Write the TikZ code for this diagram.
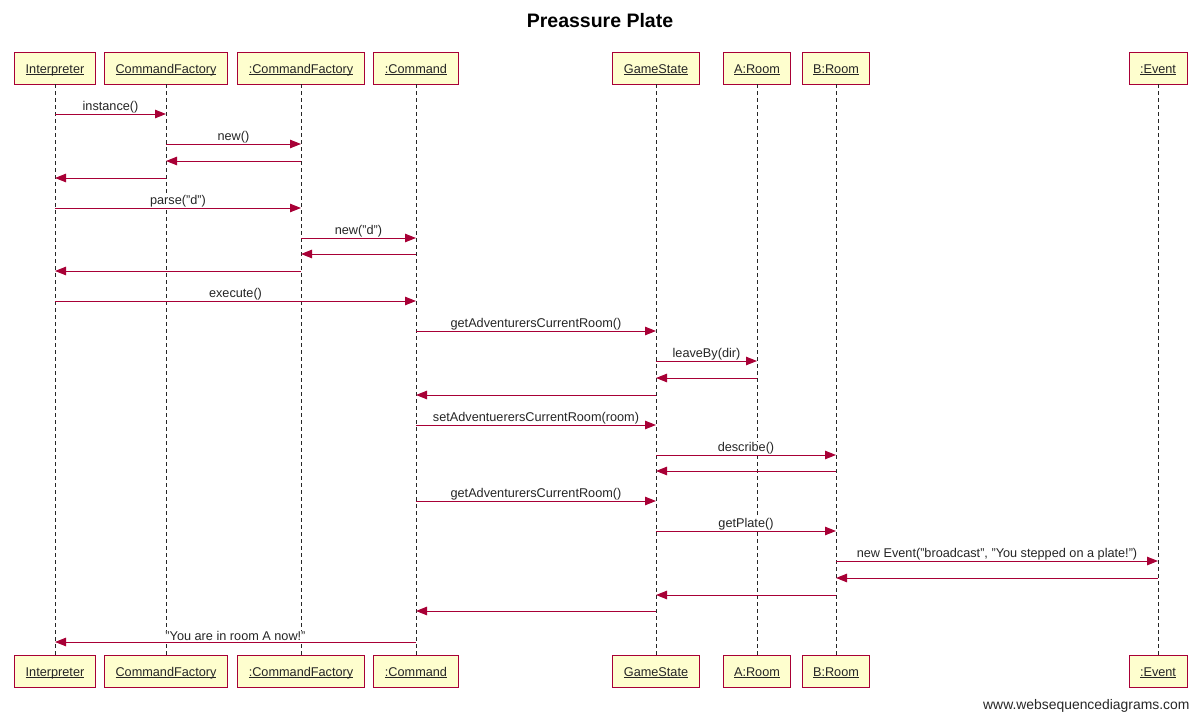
\documentclass[tikz,border=0pt]{standalone}
\usepackage{fontspec}
\setmainfont{Liberation Sans}
\usetikzlibrary{arrows.meta}
\definecolor{crim}{HTML}{A80036}
\definecolor{boxfill}{HTML}{FEFECE}
\newcommand\myul[1]{\setbox0\hbox{#1}\rlap{\rule[-1.5pt]{\wd0}{0.7pt}}\box0}
\tikzset{
  actor/.style={draw=crim, fill=boxfill, line width=0.9pt, inner xsep=11pt, minimum height=32pt, text height=11pt, text depth=0.4pt, font=\fontsize{12.7}{14}\selectfont, text=black!85},
  life/.style={draw=black!85, line width=0.9pt, dash pattern=on 4pt off 3pt},
  msg/.style={draw=crim, line width=1pt, -{Triangle[length=11pt,width=8.5pt]}},
  lbl/.style={above, fill=white, inner xsep=1pt, inner ysep=0.3pt, yshift=0.3pt, font=\fontsize{12.7}{14}\selectfont, text=black!85}
}
\begin{document}
\begin{tikzpicture}[x=1pt,y=-1pt]
\useasboundingbox (0,0) rectangle (1200,721);
\node[font=\bfseries\fontsize{19.5}{22}\selectfont] (title) at (600,21) {Preassure Plate};
% top boxes
\node[actor] (I) at (55,68) {\myul{Interpreter}};
\node[actor] (CF) at (166,68) {\myul{CommandFactory}};
\node[actor] (cf) at (301,68) {\myul{:CommandFactory}};
\node[actor] (C) at (416,68) {\myul{:Command}};
\node[actor] (G) at (656,68) {\myul{GameState}};
\node[actor] (A) at (757,68) {\myul{A:Room}};
\node[actor] (B) at (836,68) {\myul{B:Room}};
\node[actor] (E) at (1158,68) {\myul{:Event}};
% bottom boxes
\node[actor] (Ib) at (55,671) {\myul{Interpreter}};
\node[actor] (CFb) at (166,671) {\myul{CommandFactory}};
\node[actor] (cfb) at (301,671) {\myul{:CommandFactory}};
\node[actor] (Cb) at (416,671) {\myul{:Command}};
\node[actor] (Gb) at (656,671) {\myul{GameState}};
\node[actor] (Ab) at (757,671) {\myul{A:Room}};
\node[actor] (Bb) at (836,671) {\myul{B:Room}};
\node[actor] (Eb) at (1158,671) {\myul{:Event}};
% lifelines
\foreach \t/\b in {I/Ib,CF/CFb,cf/cfb,C/Cb,G/Gb,A/Ab,B/Bb,E/Eb}
  \draw[life] (\t.south) -- (\b.north);
% messages
\draw[msg] (I |- 0,114) -- node[lbl]{instance()} (CF |- 0,114);
\draw[msg] (CF |- 0,144) -- node[lbl]{new()} (cf |- 0,144);
\draw[msg] (cf |- 0,161) -- (CF |- 0,161);
\draw[msg] (CF |- 0,178) -- (I |- 0,178);
\draw[msg] (I |- 0,208) -- node[lbl]{parse("d")} (cf |- 0,208);
\draw[msg] (cf |- 0,238) -- node[lbl]{new("d")} (C |- 0,238);
\draw[msg] (C |- 0,254) -- (cf |- 0,254);
\draw[msg] (cf |- 0,271) -- (I |- 0,271);
\draw[msg] (I |- 0,301) -- node[lbl]{execute()} (C |- 0,301);
\draw[msg] (C |- 0,331) -- node[lbl]{getAdventurersCurrentRoom()} (G |- 0,331);
\draw[msg] (G |- 0,361) -- node[lbl]{leaveBy(dir)} (A |- 0,361);
\draw[msg] (A |- 0,378) -- (G |- 0,378);
\draw[msg] (G |- 0,395) -- (C |- 0,395);
\draw[msg] (C |- 0,425) -- node[lbl]{setAdventuerersCurrentRoom(room)} (G |- 0,425);
\draw[msg] (G |- 0,455) -- node[lbl]{describe()} (B |- 0,455);
\draw[msg] (B |- 0,471) -- (G |- 0,471);
\draw[msg] (C |- 0,501) -- node[lbl]{getAdventurersCurrentRoom()} (G |- 0,501);
\draw[msg] (G |- 0,531) -- node[lbl]{getPlate()} (B |- 0,531);
\draw[msg] (B |- 0,561) -- node[lbl]{new Event("broadcast", "You stepped on a plate!")} (E |- 0,561);
\draw[msg] (E |- 0,578) -- (B |- 0,578);
\draw[msg] (B |- 0,595) -- (G |- 0,595);
\draw[msg] (G |- 0,611) -- (C |- 0,611);
\draw[msg] (C |- 0,642) -- node[lbl]{"You are in room A now!"} (I |- 0,642);
% footer
\node[anchor=east, font=\fontsize{13.9}{16}\selectfont, text=black!85] (foot) at (1193,706) {www.websequencediagrams.com};
\end{tikzpicture}
\end{document}
